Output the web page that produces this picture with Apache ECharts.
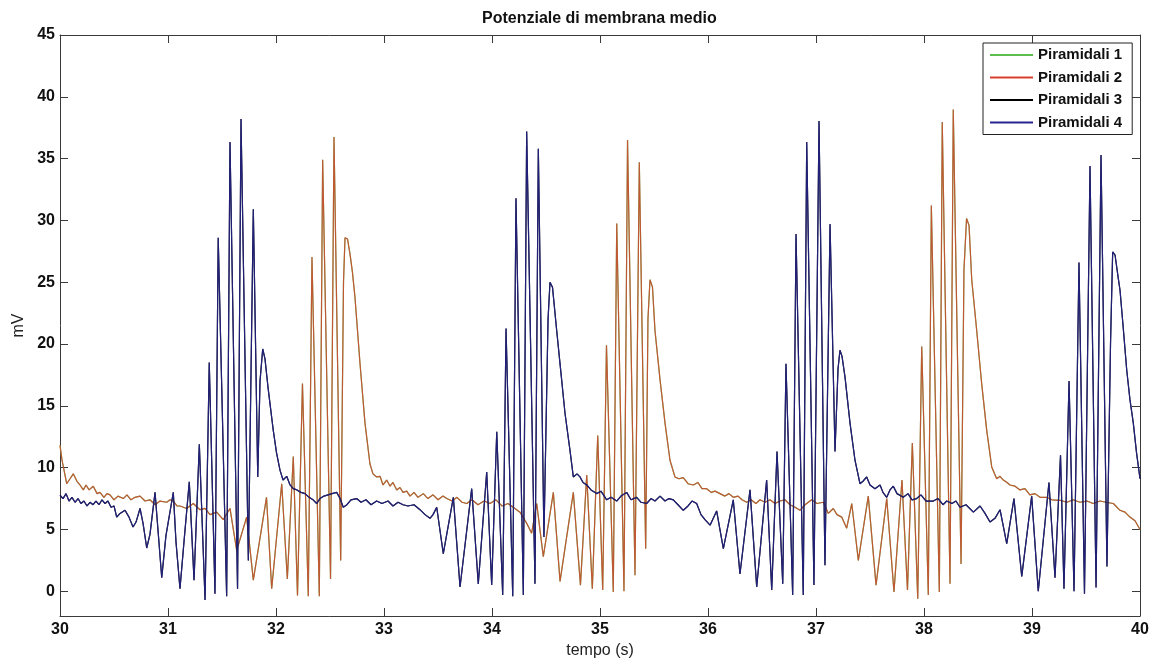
<!DOCTYPE html>
<html>
<head>
<meta charset="utf-8">
<title>Potenziale di membrana medio</title>
<script src="https://cdn.jsdelivr.net/npm/echarts@6/dist/echarts.min.js"></script>
<style>
  html, body { margin: 0; padding: 0; background: #ffffff; }
  #chart { width: 1149px; height: 659px; }
</style>
</head>
<body>
<div id="chart"></div>
<script>
// Mean membrane potential (mV) of four pyramidal populations over 30-40 s.
// Populations 1 and 2 follow practically the same trace, as do 3 and 4;
// the two pairs fire in alternating bursts.

const seriesNames = ['Piramidali 1', 'Piramidali 2', 'Piramidali 3', 'Piramidali 4'];
const seriesColors = ['#5cbc4c', '#d8402e', '#000000', '#26268e'];
const yTicks = [0, 5, 10, 15, 20, 25, 30, 35, 40, 45];

// [time (s), potential (mV)] for populations 1 and 2
const pyr12 = [
  [30.000, 11.8], [30.019, 10.6], [30.062, 8.7], [30.093, 9.1], [30.123, 9.5], [30.157, 8.9],
  [30.185, 8.6], [30.216, 8.2], [30.241, 8.6], [30.269, 8.2], [30.308, 8.5], [30.343, 7.9],
  [30.370, 8.0], [30.407, 7.6], [30.435, 7.9], [30.463, 7.8], [30.500, 7.4], [30.537, 7.7],
  [30.586, 7.5], [30.620, 7.8], [30.657, 7.4], [30.694, 7.6], [30.741, 7.7], [30.787, 7.3],
  [30.833, 7.4], [30.880, 7.0], [30.926, 7.3], [30.988, 7.2], [31.019, 7.4], [31.049, 7.3],
  [31.083, 6.9], [31.111, 6.9], [31.173, 6.7], [31.234, 7.1], [31.296, 6.6], [31.343, 6.7],
  [31.389, 6.2], [31.451, 6.4], [31.512, 5.8], [31.574, 6.7], [31.636, 3.3], [31.728, 6.0],
  [31.790, 0.9], [31.912, 7.6], [31.960, 0.2], [32.053, 8.7], [32.105, 1.0], [32.160, 10.9],
  [32.199, -0.35], [32.245, 16.8], [32.299, -0.4], [32.333, 27.05], [32.401, -0.4], [32.432, 34.9],
  [32.505, 1.0], [32.537, 36.75], [32.599, 2.5], [32.625, 25.0], [32.639, 28.6], [32.662, 28.5],
  [32.685, 27.3], [32.708, 25.8], [32.731, 23.8], [32.778, 18.4], [32.824, 13.6], [32.870, 10.3],
  [32.898, 9.5], [32.932, 9.25], [32.963, 9.3], [32.991, 8.6], [33.025, 9.0], [33.056, 8.5],
  [33.083, 8.8], [33.118, 8.2], [33.148, 8.4], [33.176, 8.0], [33.210, 8.1], [33.241, 7.7],
  [33.278, 8.0], [33.315, 7.6], [33.364, 7.9], [33.407, 7.5], [33.454, 7.8], [33.500, 7.4],
  [33.546, 7.7], [33.581, 7.5], [33.630, 7.3], [33.676, 7.6], [33.722, 7.2], [33.766, 7.1],
  [33.815, 7.4], [33.870, 7.0], [33.926, 7.3], [33.981, 7.1], [34.037, 7.4], [34.093, 6.9],
  [34.148, 7.1], [34.197, 6.8], [34.259, 6.4], [34.321, 5.5], [34.367, 4.7], [34.414, 7.1],
  [34.475, 2.8], [34.568, 8.0], [34.630, 0.8], [34.753, 8.0], [34.819, 0.5], [34.877, 9.4],
  [34.929, 0.2], [34.979, 12.6], [35.025, 0.1], [35.060, 19.9], [35.123, -0.05], [35.155, 29.75],
  [35.222, 0.0], [35.255, 36.5], [35.324, 1.3], [35.364, 34.7], [35.423, 3.45], [35.444, 22.0],
  [35.463, 25.2], [35.486, 24.6], [35.509, 21.1], [35.556, 17.1], [35.602, 13.6], [35.648, 10.6],
  [35.694, 9.25], [35.731, 9.1], [35.771, 9.2], [35.815, 8.7], [35.864, 8.6], [35.907, 8.8],
  [35.944, 8.3], [35.988, 8.3], [36.028, 8.0], [36.065, 8.1], [36.111, 7.9], [36.157, 7.7],
  [36.194, 7.9], [36.234, 7.6], [36.278, 7.7], [36.315, 7.4], [36.358, 7.2], [36.398, 7.4],
  [36.444, 7.1], [36.481, 7.4], [36.528, 7.2], [36.574, 7.4], [36.620, 7.1], [36.667, 7.3],
  [36.713, 7.4], [36.759, 7.0], [36.806, 6.8], [36.852, 6.55], [36.898, 7.0], [36.960, 7.4],
  [37.009, 7.1], [37.068, 7.2], [37.114, 6.3], [37.160, 6.7], [37.194, 6.2], [37.238, 6.0],
  [37.284, 5.1], [37.331, 7.1], [37.392, 2.5], [37.484, 7.7], [37.556, 0.5], [37.655, 7.5],
  [37.722, -0.05], [37.796, 9.0], [37.847, 0.1], [37.892, 12.0], [37.942, -0.6], [37.979, 19.8],
  [38.040, -0.3], [38.068, 31.2], [38.142, -0.05], [38.169, 37.97], [38.241, 0.6], [38.271, 38.97],
  [38.343, 2.2], [38.370, 26.0], [38.394, 30.15], [38.417, 29.6], [38.442, 25.2], [38.488, 21.1],
  [38.534, 16.8], [38.581, 13.0], [38.627, 10.06], [38.673, 9.1], [38.704, 9.3], [38.734, 9.0],
  [38.769, 8.8], [38.796, 8.6], [38.843, 8.5], [38.889, 8.2], [38.935, 8.3], [38.981, 7.8],
  [39.028, 7.9], [39.074, 7.6], [39.136, 7.6], [39.185, 7.4], [39.259, 7.36], [39.324, 7.2],
  [39.380, 7.4], [39.444, 7.2], [39.509, 7.3], [39.565, 7.1], [39.630, 7.3], [39.685, 7.2],
  [39.753, 7.1], [39.815, 6.55], [39.861, 6.4], [39.907, 6.0], [39.954, 5.7], [40.000, 5.0]
];

// [time (s), potential (mV)] for populations 3 and 4
const pyr34 = [
  [30.000, 7.77], [30.028, 7.5], [30.056, 7.9], [30.083, 7.3], [30.111, 7.6], [30.139, 7.2],
  [30.167, 7.5], [30.194, 7.1], [30.222, 7.3], [30.250, 6.9], [30.278, 7.2], [30.306, 7.0],
  [30.333, 7.3], [30.361, 7.0], [30.389, 7.4], [30.417, 7.1], [30.444, 7.3], [30.472, 6.8],
  [30.500, 6.9], [30.525, 6.0], [30.556, 6.3], [30.602, 6.55], [30.639, 6.0], [30.676, 5.2],
  [30.704, 5.6], [30.741, 6.7], [30.769, 5.5], [30.803, 3.5], [30.833, 4.6], [30.880, 8.0],
  [30.907, 5.0], [30.942, 1.1], [30.981, 4.5], [31.049, 8.0], [31.074, 4.0], [31.111, 0.2],
  [31.148, 4.0], [31.197, 8.85], [31.241, 0.9], [31.290, 11.9], [31.343, -0.7], [31.382, 18.5],
  [31.435, -0.2], [31.465, 28.6], [31.543, -0.4], [31.574, 36.35], [31.644, 0.2], [31.676, 38.2],
  [31.744, 2.5], [31.790, 30.9], [31.831, 9.25], [31.852, 17.0], [31.877, 19.6], [31.898, 18.8],
  [31.926, 16.5], [31.975, 13.0], [32.005, 11.2], [32.037, 9.8], [32.065, 9.0], [32.099, 9.3],
  [32.130, 8.6], [32.160, 8.3], [32.194, 8.2], [32.231, 8.0], [32.269, 7.9], [32.306, 7.6],
  [32.343, 7.4], [32.377, 7.1], [32.407, 7.5], [32.444, 7.7], [32.481, 7.8], [32.519, 7.9],
  [32.562, 8.0], [32.593, 7.5], [32.623, 6.8], [32.657, 7.0], [32.694, 7.4], [32.747, 7.5],
  [32.787, 7.2], [32.833, 7.4], [32.880, 7.0], [32.932, 7.3], [32.981, 7.1], [33.037, 7.3],
  [33.083, 6.9], [33.130, 7.2], [33.176, 7.0], [33.222, 6.9], [33.278, 7.0], [33.333, 6.6],
  [33.380, 6.2], [33.426, 5.9], [33.454, 6.2], [33.488, 6.8], [33.549, 3.05], [33.642, 7.6],
  [33.704, 0.35], [33.812, 8.3], [33.873, 0.6], [33.951, 9.65], [33.997, 0.5], [34.044, 12.9],
  [34.099, -0.3], [34.130, 21.25], [34.192, -0.4], [34.222, 31.8], [34.290, -0.3], [34.321, 37.2],
  [34.398, 0.6], [34.429, 35.8], [34.481, 4.4], [34.519, 22.0], [34.537, 25.0], [34.560, 24.6],
  [34.599, 21.1], [34.630, 18.4], [34.676, 14.4], [34.722, 11.4], [34.753, 9.25], [34.787, 9.5],
  [34.815, 9.25], [34.843, 8.8], [34.877, 8.6], [34.917, 8.2], [34.969, 7.9], [35.009, 8.1],
  [35.062, 7.4], [35.102, 7.6], [35.155, 7.3], [35.194, 7.7], [35.247, 8.0], [35.287, 7.4],
  [35.340, 7.6], [35.380, 7.2], [35.432, 7.1], [35.472, 7.5], [35.509, 7.3], [35.556, 7.7],
  [35.602, 7.3], [35.639, 7.5], [35.679, 7.4], [35.722, 7.0], [35.771, 6.55], [35.815, 6.9],
  [35.852, 7.3], [35.895, 7.1], [35.935, 6.2], [35.972, 5.8], [36.019, 5.35], [36.080, 6.5],
  [36.142, 3.45], [36.234, 7.4], [36.296, 1.4], [36.389, 8.2], [36.451, 0.35], [36.543, 9.0],
  [36.590, 0.1], [36.639, 11.3], [36.692, 0.6], [36.722, 18.4], [36.784, -0.3], [36.815, 28.9],
  [36.882, -0.3], [36.914, 36.35], [36.981, 0.5], [37.028, 38.05], [37.083, 2.1], [37.130, 29.7],
  [37.176, 11.3], [37.204, 18.0], [37.222, 19.5], [37.241, 19.0], [37.269, 17.3], [37.315, 13.6],
  [37.361, 10.6], [37.407, 8.7], [37.435, 8.9], [37.469, 9.25], [37.500, 8.6], [37.546, 8.3],
  [37.593, 8.6], [37.620, 8.0], [37.655, 7.6], [37.685, 8.2], [37.716, 8.5], [37.750, 7.9],
  [37.808, 7.6], [37.852, 7.9], [37.889, 7.4], [37.932, 7.5], [37.972, 7.8], [38.019, 7.3],
  [38.086, 7.3], [38.130, 7.5], [38.176, 7.0], [38.210, 7.3], [38.259, 7.1], [38.296, 7.3],
  [38.333, 6.8], [38.389, 7.0], [38.457, 6.4], [38.519, 6.9], [38.565, 6.3], [38.611, 5.6],
  [38.657, 5.9], [38.704, 6.6], [38.766, 3.86], [38.833, 7.5], [38.905, 1.2], [38.997, 7.7],
  [39.058, 0.0], [39.157, 8.8], [39.213, 1.1], [39.264, 11.0], [39.296, 0.2], [39.343, 17.0],
  [39.389, 0.0], [39.435, 26.6], [39.486, -0.2], [39.537, 34.4], [39.593, 0.3], [39.639, 35.3],
  [39.694, 2.0], [39.727, 20.0], [39.747, 27.45], [39.769, 27.2], [39.796, 25.5], [39.815, 24.35],
  [39.843, 21.5], [39.877, 17.9], [39.907, 15.5], [39.938, 13.6], [39.968, 11.2], [40.000, 9.1]
];

const seriesData = [pyr12, pyr12, pyr34, pyr34];
const seriesOpacity = [1, 0.8, 1, 0.85];

const FONT = '"Liberation Sans", Arial, Helvetica, sans-serif';
const AXIS_COLOR = '#3a3a3a';

const chart = echarts.init(document.getElementById('chart'), null, { renderer: 'canvas' });

const boxAxisCommon = {
  type: 'value',
  axisLine: { show: true, onZero: false, lineStyle: { color: AXIS_COLOR, width: 1 } },
  axisTick: { show: true, inside: true, length: 8, lineStyle: { color: AXIS_COLOR, width: 1 } },
  splitLine: { show: false }
};

const option = {
  backgroundColor: '#ffffff',
  animation: false,
  title: {
    text: 'Potenziale di membrana medio',
    left: 477,
    top: 6,
    textStyle: { fontFamily: FONT, fontSize: 16, fontWeight: 'bold', color: '#111111' }
  },
  legend: {
    orient: 'vertical',
    left: 983,
    top: 43,
    padding: [3, 10, 3, 7],
    itemGap: 4.5,
    itemWidth: 43,
    itemHeight: 2,
    icon: 'rect',
    backgroundColor: '#ffffff',
    borderColor: '#222222',
    borderWidth: 1,
    data: seriesNames,
    itemStyle: { opacity: 1 },
    textStyle: { fontFamily: FONT, fontSize: 15, fontWeight: 'bold', color: '#111111', lineHeight: 18 }
  },
  // fixed plot rectangle; axis labels and names sit outside it
  grid: { left: 60, right: 9, top: 35, bottom: 43, containLabel: false, outerBoundsMode: 'none' },
  xAxis: [
    Object.assign({}, boxAxisCommon, {
      min: 30, max: 40, interval: 1, position: 'bottom',
      axisLabel: { fontFamily: FONT, fontSize: 16, fontWeight: 'bold', color: '#111111', margin: 6 },
      name: 'tempo (s)',
      nameLocation: 'middle',
      nameGap: 26,
      nameTextStyle: { fontFamily: FONT, fontSize: 16, color: '#222222' }
    }),
    Object.assign({}, boxAxisCommon, {
      min: 30, max: 40, interval: 1, position: 'top',
      axisLabel: { show: false }
    })
  ],
  yAxis: [
    Object.assign({}, boxAxisCommon, {
      min: -2, max: 45, position: 'left',
      axisTick: { show: true, inside: true, length: 8, customValues: yTicks, lineStyle: { color: AXIS_COLOR, width: 1 } },
      axisLabel: { customValues: yTicks, fontFamily: FONT, fontSize: 16, fontWeight: 'bold', color: '#111111', margin: 5 },
      name: 'mV',
      nameLocation: 'middle',
      nameGap: 27,
      nameRotate: 90,
      nameTextStyle: { fontFamily: FONT, fontSize: 16, color: '#222222' }
    }),
    Object.assign({}, boxAxisCommon, {
      min: -2, max: 45, position: 'right',
      axisTick: { show: true, inside: true, length: 8, customValues: yTicks, lineStyle: { color: AXIS_COLOR, width: 1 } },
      axisLabel: { show: false }
    })
  ],
  series: seriesNames.map((name, i) => ({
    name: name,
    type: 'line',
    xAxisIndex: 0,
    yAxisIndex: 0,
    data: seriesData[i],
    showSymbol: false,
    symbol: 'none',
    color: seriesColors[i],
    lineStyle: { color: seriesColors[i], width: 1.2, opacity: seriesOpacity[i] },
    itemStyle: { color: seriesColors[i] },
    emphasis: { disabled: true },
    z: 2 + i
  }))
};

chart.setOption(option);
</script>
</body>
</html>
